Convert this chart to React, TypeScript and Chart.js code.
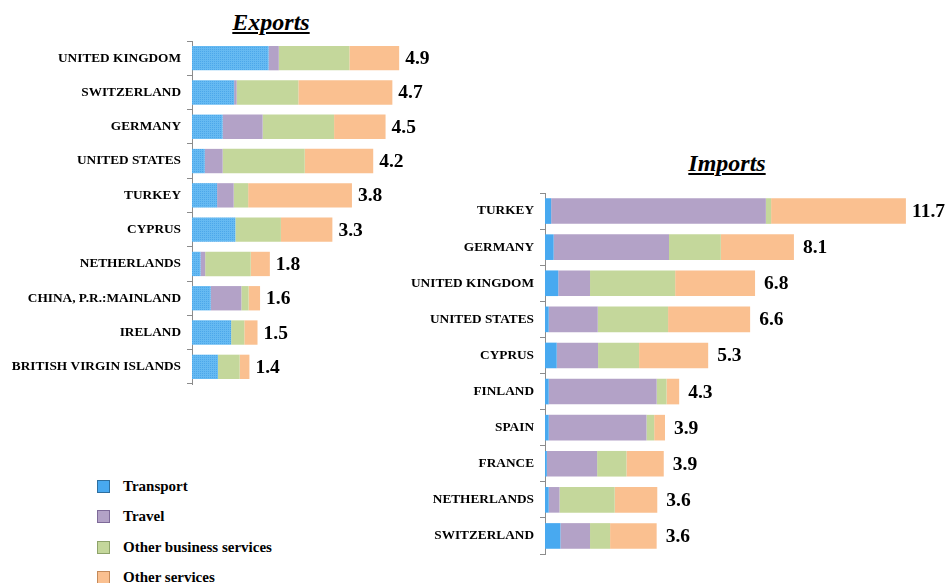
import React, { useEffect, useRef } from 'react';
import { Chart, registerables } from 'chart.js';

Chart.register(...registerables);

const SERIES_NAMES = ['Transport', 'Travel', 'Other business services', 'Other services'];

// ---------- Exports ----------
const exportCountries = [
  'UNITED KINGDOM', 'SWITZERLAND', 'GERMANY', 'UNITED STATES', 'TURKEY',
  'CYPRUS', 'NETHERLANDS', 'CHINA, P.R.:MAINLAND', 'IRELAND', 'BRITISH VIRGIN ISLANDS',
];
const exportTransport = [1.80, 0.99, 0.72, 0.30, 0.59, 1.02, 0.20, 0.44, 0.92, 0.61];
const exportTravel = [0.24, 0.06, 0.94, 0.42, 0.39, 0.00, 0.11, 0.72, 0.00, 0.00];
const exportOtherBusiness = [1.66, 1.45, 1.68, 1.93, 0.34, 1.07, 1.07, 0.17, 0.31, 0.51];
const exportOtherServices = [1.17, 2.21, 1.21, 1.61, 2.44, 1.21, 0.45, 0.27, 0.31, 0.23];
const exportTotals = [4.9, 4.7, 4.5, 4.2, 3.8, 3.3, 1.8, 1.6, 1.5, 1.4];

// ---------- Imports ----------
const importCountries = [
  'TURKEY', 'GERMANY', 'UNITED KINGDOM', 'UNITED STATES', 'CYPRUS',
  'FINLAND', 'SPAIN', 'FRANCE', 'NETHERLANDS', 'SWITZERLAND',
];
const importTransport = [0.20, 0.28, 0.43, 0.12, 0.38, 0.12, 0.12, 0.06, 0.12, 0.50];
const importTravel = [6.96, 3.74, 1.03, 1.59, 1.34, 3.50, 3.17, 1.63, 0.35, 0.96];
const importOtherBusiness = [0.17, 1.68, 2.76, 2.28, 1.33, 0.32, 0.25, 0.95, 1.79, 0.65];
const importOtherServices = [4.37, 2.37, 2.59, 2.66, 2.24, 0.41, 0.35, 1.21, 1.38, 1.51];
const importTotals = [11.7, 8.1, 6.8, 6.6, 5.3, 4.3, 3.9, 3.9, 3.6, 3.6];

const COLORS = ['#48A9F0', '#B3A2C7', '#C4D79B', '#FAC090'];
const BORDERS = ['#2F6F9F', '#7E6A99', '#8EA36A', '#C48A5A'];
const FONT = "'Liberation Serif', 'Times New Roman', serif";

const totalsPlugin = {
  id: 'totals',
  afterDatasetsDraw(chart: any, _args: any, opts: any) {
    const ctx = chart.ctx;
    const totals: number[] = opts.totals || [];
    const meta = chart.getDatasetMeta(chart.data.datasets.length - 1);
    ctx.save();
    ctx.font = `bold ${opts.size}px ${FONT}`;
    ctx.fillStyle = '#000';
    ctx.textBaseline = 'middle';
    ctx.textAlign = 'left';
    meta.data.forEach((el: any, i: number) => {
      const text = totals[i].toFixed(1);
      const w = ctx.measureText(text).width;
      const x = Math.min(el.x + opts.gap, chart.width - w - 1);
      ctx.fillText(text, x, el.y + 1);
    });
    ctx.restore();
  },
};

type PanelProps = {
  labels: string[];
  series: number[][];
  totals: number[];
  max: number;
  axisWidth: number;
  left: number;
  top: number;
  width: number;
  height: number;
  padTop: number;
  padBottom: number;
  gap: number;
  dotted: boolean;
};

function BarPanel(p: PanelProps) {
  const ref = useRef<HTMLCanvasElement>(null);
  useEffect(() => {
    const canvas = ref.current as HTMLCanvasElement;
    let transportBg: any = COLORS[0];
    if (p.dotted) {
      const off = document.createElement('canvas');
      off.width = 2;
      off.height = 2;
      const octx = off.getContext('2d') as CanvasRenderingContext2D;
      octx.fillStyle = '#66BAF2';
      octx.fillRect(0, 0, 2, 2);
      octx.fillStyle = '#4CA7EA';
      octx.fillRect(0, 0, 1, 1);
      const pat = (canvas.getContext('2d') as CanvasRenderingContext2D).createPattern(off, 'repeat');
      if (pat) transportBg = pat;
    }
    const chart = new Chart(canvas, {
      type: 'bar',
      data: {
        labels: p.labels,
        datasets: p.series.map((d, i) => ({
          label: SERIES_NAMES[i],
          data: d,
          backgroundColor: i === 0 ? transportBg : COLORS[i],
          borderWidth: 0,
          barPercentage: 0.71,
          categoryPercentage: 1,
        })),
      },
      options: {
        indexAxis: 'y',
        responsive: false,
        animation: false,
        devicePixelRatio: 1,
        layout: { padding: { top: p.padTop, bottom: p.padBottom, left: 0, right: 0 } },
        plugins: {
          legend: { display: false },
          tooltip: { enabled: false },
          totals: { totals: p.totals, gap: p.gap, size: 19.5 },
        } as any,
        scales: {
          x: { stacked: true, display: false, min: 0, max: p.max },
          y: {
            stacked: true,
            afterFit: (s: any) => {
              s.width = p.axisWidth;
              s.paddingTop = 0;
              s.paddingBottom = 0;
            },
            grid: {
              drawOnChartArea: false,
              offset: true,
              tickLength: 5,
              color: '#8c8c8c',
            },
            border: { display: true, color: '#8c8c8c', width: 1 },
            ticks: {
              color: '#000',
              padding: 6,
              autoSkip: false,
              font: { family: FONT, weight: 'bold', size: 13.3 },
            },
          },
        },
      } as any,
      plugins: [totalsPlugin],
    });
    return () => chart.destroy();
  }, []);
  return (
    <canvas
      ref={ref}
      width={p.width}
      height={p.height}
      style={{ position: 'absolute', left: p.left, top: p.top, width: p.width, height: p.height }}
    />
  );
}

const titleStyle: React.CSSProperties = {
  position: 'absolute',
  fontFamily: FONT,
  fontWeight: 'bold',
  fontStyle: 'italic',
  textDecoration: 'underline',
  fontSize: 24,
  lineHeight: '24px',
  textAlign: 'center',
  color: '#000',
};

export default function App() {
  const legendTops = [486, 516, 547, 577];
  return (
    <div style={{ position: 'fixed', left: 0, top: 0, width: 946, height: 583, background: '#fff', overflow: 'hidden' }}>
      <div style={{ ...titleStyle, left: 121, width: 300, top: 10 }}>Exports</div>
      <div style={{ ...titleStyle, left: 577, width: 300, top: 151 }}>Imports</div>
      <BarPanel
        labels={exportCountries}
        series={[exportTransport, exportTravel, exportOtherBusiness, exportOtherServices]}
        totals={exportTotals}
        max={6.3}
        axisWidth={192}
        left={0}
        top={35}
        width={460}
        height={354}
        padTop={6}
        padBottom={5}
        gap={6}
        dotted={true}
      />
      <BarPanel
        labels={importCountries}
        series={[importTransport, importTravel, importOtherBusiness, importOtherServices]}
        totals={importTotals}
        max={13}
        axisWidth={145}
        left={400}
        top={188}
        width={546}
        height={371}
        padTop={5}
        padBottom={5}
        gap={9}
        dotted={false}
      />
      {SERIES_NAMES.map((name, i) => (
        <div key={name}>
          <div
            style={{
              position: 'absolute',
              left: 97,
              top: legendTops[i] - 6,
              width: 11,
              height: 11,
              background: COLORS[i],
              border: `1px solid ${BORDERS[i]}`,
            }}
          />
          <div
            style={{
              position: 'absolute',
              left: 123,
              top: legendTops[i] - 10,
              lineHeight: '20px',
              fontFamily: FONT,
              fontWeight: 'bold',
              fontSize: 15,
              color: '#000',
              whiteSpace: 'nowrap',
            }}
          >
            {name}
          </div>
        </div>
      ))}
    </div>
  );
}
